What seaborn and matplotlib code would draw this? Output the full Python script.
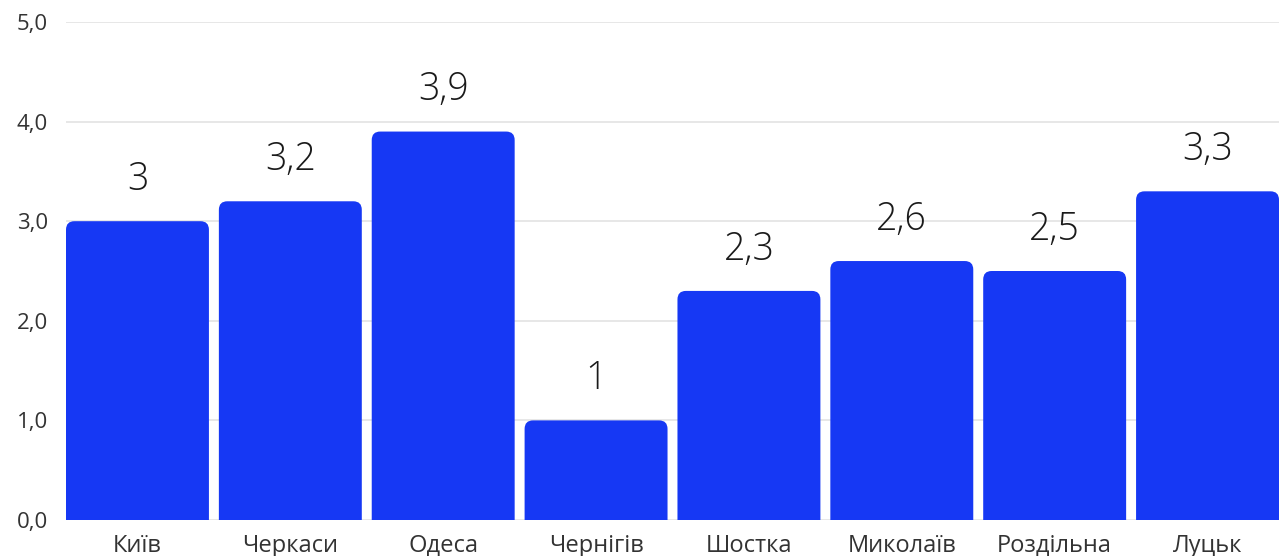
import numpy as np
import pandas as pd
import seaborn as sns
import matplotlib
matplotlib.use('Agg')
import matplotlib.pyplot as plt
from matplotlib.patches import FancyBboxPatch

cities = ['Київ', 'Черкаси', 'Одеса', 'Чернігів', 'Шостка', 'Миколаїв', 'Роздільна', 'Луцьк']
values = [3.0, 3.2, 3.9, 1.0, 2.3, 2.6, 2.5, 3.3]
y_ticks = [0, 1, 2, 3, 4, 5]

sns.set_style('white')
plt.rcParams['font.family'] = ['Open Sans', 'DejaVu Sans']

df = pd.DataFrame({'city': cities, 'value': values})

fig = plt.figure(figsize=(12.79, 5.56), dpi=100)
ax = fig.add_axes([66 / 1279, 36 / 556, 1213 / 1279, 498 / 556])

bar_color = '#1638f4'
g = sns.barplot(x='city', y='value', data=df, color=bar_color, width=0.935,
                saturation=1, ax=ax, zorder=3)

# swap the plain rectangles for ones with rounded top corners
old = list(ax.patches)
for p in old:
    x, w, h = p.get_x(), p.get_width(), p.get_height()
    box = FancyBboxPatch((x, -0.3), w, h + 0.3,
                         boxstyle='round,pad=0,rounding_size=0.055',
                         mutation_aspect=1.55, facecolor=bar_color,
                         edgecolor='none', zorder=3)
    ax.add_patch(box)
    p.remove()

for x, v in enumerate(values):
    label = format(v, 'g').replace('.', ',')
    ax.annotate(label, (x, v), ha='center', va='bottom', xytext=(0, 16),
                textcoords='offset points', fontsize=27, fontweight='light',
                color='#1a1a1a')

ax.set_xlim(-0.4675, 7.4675)
ax.set_ylim(0, 5)
ax.set_yticks(y_ticks)
ax.set_yticklabels([format(t, '.1f').replace('.', ',') for t in y_ticks])
ax.yaxis.grid(True, color='#e3e3e3', linewidth=1.2, zorder=0)
ax.xaxis.grid(False)
ax.set_axisbelow(True)
for s in ax.spines.values():
    s.set_visible(False)
ax.tick_params(axis='y', length=0, pad=13, labelsize=16, labelcolor='#333333')
ax.tick_params(axis='x', length=0, pad=10, labelsize=17, labelcolor='#333333')
ax.set_xlabel('')
ax.set_ylabel('')

fig.savefig('out.png', dpi=100)
